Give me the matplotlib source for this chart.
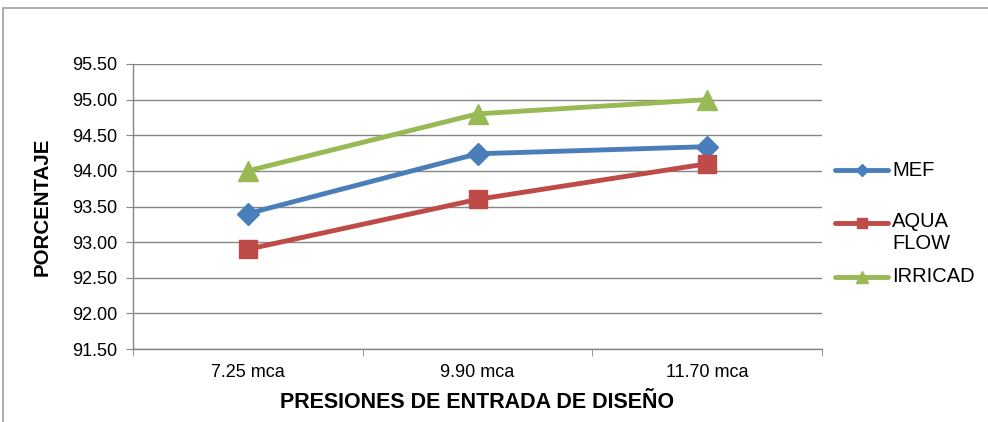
import matplotlib.pyplot as plt
from matplotlib.lines import Line2D
from matplotlib.patches import Rectangle
import numpy as np

plt.rcParams['font.family'] = ['Liberation Sans', 'DejaVu Sans']

# Data
categories = ['7.25 mca', '9.90 mca', '11.70 mca']
mef = [93.40, 94.24, 94.34]
aqua_flow = [92.90, 93.60, 94.10]
irricad = [94.00, 94.80, 95.00]

series = [
    ('MEF', mef, '#4A7EBB', 'D', 11),
    ('AQUA\nFLOW', aqua_flow, '#BE4B48', 's', 13),
    ('IRRICAD', irricad, '#98B954', '^', 14),
]

fig = plt.figure(figsize=(9.88, 4.22), dpi=100)
ax = fig.add_axes([133 / 988, 1 - 349 / 422, (822 - 133) / 988, (349 - 64) / 422])

# Outer frame
fig.add_artist(Rectangle((3 / 988, -0.05), 1.2, 1 - 8 / 422 + 0.05,
                         transform=fig.transFigure, fill=False,
                         edgecolor='#A0A0A0', lw=1.2))

x = np.arange(len(categories))
for name, vals, col, mk, ms in series:
    ax.plot(x, vals, color=col, lw=3.5, marker=mk, ms=ms, zorder=3)

ax.set_xlim(-0.5, len(categories) - 0.5)
ax.set_ylim(91.5, 95.5)
yt = np.arange(91.5, 95.51, 0.5)
ax.set_yticks(yt)
ax.set_yticklabels([f'{v:.2f}' for v in yt], fontsize=13)
ax.yaxis.grid(True, color='#868686', lw=1)
ax.set_axisbelow(True)

# category labels without ticks; ticks between categories
ax.set_xticks(x)
ax.set_xticklabels(categories, fontsize=13)
ax.tick_params(axis='x', length=0, pad=11)
ax.set_xticks(np.arange(-0.5, len(categories), 1), minor=True)
ax.tick_params(axis='x', which='minor', length=5, color='#868686', direction='out')
ax.tick_params(axis='y', length=5, color='#868686', direction='out', pad=6)

for s in ['top', 'right']:
    ax.spines[s].set_visible(False)
for s in ['left', 'bottom']:
    ax.spines[s].set_color('#868686')
    ax.spines[s].set_linewidth(1)

ax.set_xlabel('PRESIONES DE ENTRADA DE DISEÑO', fontsize=15.5, fontweight='bold', labelpad=8)
ax.set_ylabel('PORCENTAJE', fontsize=14.8, fontweight='bold', labelpad=15)

# Legend drawn by hand so the handle sits on the first text line
leg_y = [170, 223, 277]
for (name, vals, col, mk, ms), yy in zip(series, leg_y):
    yf = 1 - yy / 422
    fig.add_artist(Line2D([835 / 988, 888 / 988], [yf, yf], transform=fig.transFigure,
                          color=col, lw=3.5, solid_capstyle='round'))
    fig.add_artist(Line2D([861.5 / 988], [yf], transform=fig.transFigure,
                          color=col, marker=mk, ms=ms * 0.6, lw=0))
    if '\n' in name:
        fig.text(892 / 988, 1 - (yy - 11) / 422, name, fontsize=14.5, va='top',
                 ha='left', linespacing=1.2)
    else:
        fig.text(892 / 988, yf, name, fontsize=14.5, va='center', ha='left')

fig.savefig('out.png', dpi=100)
